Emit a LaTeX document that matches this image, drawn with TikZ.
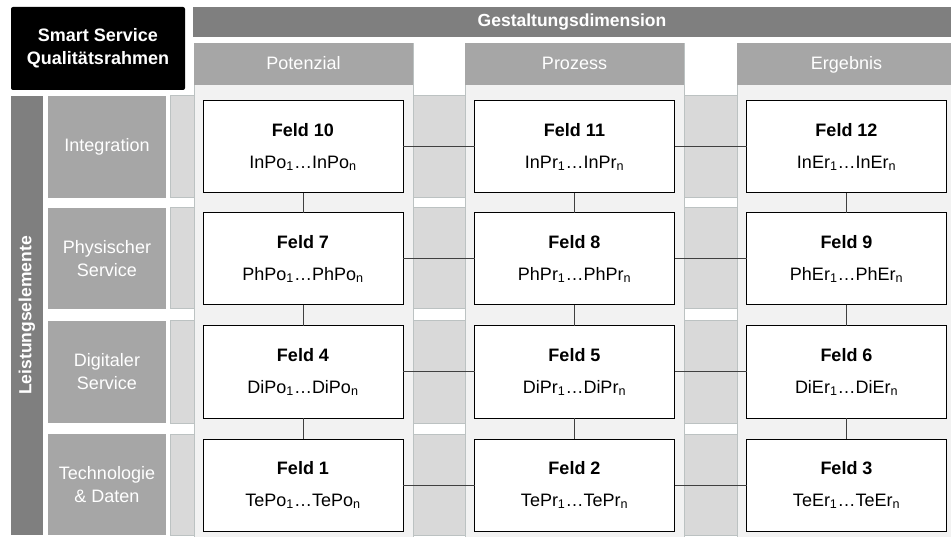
\documentclass[tikz,border=0pt]{standalone}
\usepackage{fontspec}
\setmainfont{Liberation Sans}
\definecolor{barGray}{HTML}{7F7F7F}
\definecolor{headGray}{HTML}{A6A6A6}
\definecolor{bandGray}{HTML}{D9D9D9}
\definecolor{colGray}{HTML}{F2F2F2}
\definecolor{edgeGray}{HTML}{BCC2C2}

\begin{document}
\begin{tikzpicture}[x=1pt, y=-1pt,
            every node/.style={font=\fontsize{18}{23}\selectfont, inner sep=0pt, outer sep=0pt},
            band/.style={rectangle, anchor=north west, fill=bandGray, draw=edgeGray, line width=1pt, minimum width=781pt},
            colbody/.style={rectangle, anchor=north west, fill=colGray, draw=edgeGray, line width=0.8pt, minimum width=219pt, minimum height=500pt},
            head/.style={rectangle, anchor=north west, fill=headGray, minimum width=219pt, minimum height=42pt, text=white,
                         text height=13pt, text depth=2pt},
            rowlabel/.style={rectangle, anchor=north west, fill=headGray, minimum width=118pt, text=white, align=center},
            feld/.style={rectangle, draw, fill=white, line width=1pt, minimum width=200pt, minimum height=92pt, align=center},
            link/.style={draw=black!75, line width=1pt}]

        \useasboundingbox (0,0) rectangle (951,537);

        % rows behind the columns
        \node[band, minimum height=102pt] (bandIn) at (170,96) {};
        \node[band, minimum height=101pt] (bandPh) at (170,208) {};
        \node[band, minimum height=102pt] (bandDi) at (170,321) {};
        \node[band, minimum height=101pt] (bandTe) at (170,434) {};

        % columns
        \node[colbody] (colPo) at (194,43) {};
        \node[colbody] (colPr) at (465,43) {};
        \node[colbody] (colEr) at (737,43) {};
        \node[head] (hdPo) at (194,43) {Potenzial};
        \node[head] (hdPr) at (465,43) {Prozess};
        \node[head] (hdEr) at (737,43) {Ergebnis};

        % row labels
        \node[rowlabel, minimum height=102pt] (lbIn) at (48,96) {Integration};
        \node[rowlabel, minimum height=101pt] (lbPh) at (48,208) {Physischer\\Service};
        \node[rowlabel, minimum height=102pt] (lbDi) at (48,321) {Digitaler\\Service};
        \node[rowlabel, minimum height=101pt] (lbTe) at (48,434) {Technologie\\\& Daten};

        % fields
        \node[feld] (f10) at (303,147) {\textbf{Feld 10}\\[9pt]InPo\textsubscript{1}…InPo\textsubscript{n}};
        \node[feld] (f11) at (574.5,147) {\textbf{Feld 11}\\[9pt]InPr\textsubscript{1}…InPr\textsubscript{n}};
        \node[feld] (f12) at (846.5,147) {\textbf{Feld 12}\\[9pt]InEr\textsubscript{1}…InEr\textsubscript{n}};
        \node[feld] (f7) at (303,259) {\textbf{Feld 7}\\[9pt]PhPo\textsubscript{1}…PhPo\textsubscript{n}};
        \node[feld] (f8) at (574.5,259) {\textbf{Feld 8}\\[9pt]PhPr\textsubscript{1}…PhPr\textsubscript{n}};
        \node[feld] (f9) at (846.5,259) {\textbf{Feld 9}\\[9pt]PhEr\textsubscript{1}…PhEr\textsubscript{n}};
        \node[feld] (f4) at (303,372) {\textbf{Feld 4}\\[9pt]DiPo\textsubscript{1}…DiPo\textsubscript{n}};
        \node[feld] (f5) at (574.5,372) {\textbf{Feld 5}\\[9pt]DiPr\textsubscript{1}…DiPr\textsubscript{n}};
        \node[feld] (f6) at (846.5,372) {\textbf{Feld 6}\\[9pt]DiEr\textsubscript{1}…DiEr\textsubscript{n}};
        \node[feld] (f1) at (303,485) {\textbf{Feld 1}\\[9pt]TePo\textsubscript{1}…TePo\textsubscript{n}};
        \node[feld] (f2) at (574.5,485) {\textbf{Feld 2}\\[9pt]TePr\textsubscript{1}…TePr\textsubscript{n}};
        \node[feld] (f3) at (846.5,485) {\textbf{Feld 3}\\[9pt]TeEr\textsubscript{1}…TeEr\textsubscript{n}};

        % links between fields
        \draw[link] (f10) -- (f11);
        \draw[link] (f11) -- (f12);
        \draw[link] (f7) -- (f8);
        \draw[link] (f8) -- (f9);
        \draw[link] (f4) -- (f5);
        \draw[link] (f5) -- (f6);
        \draw[link] (f1) -- (f2);
        \draw[link] (f2) -- (f3);
        \draw[link] (f10) -- (f7);
        \draw[link] (f7) -- (f4);
        \draw[link] (f4) -- (f1);
        \draw[link] (f11) -- (f8);
        \draw[link] (f8) -- (f5);
        \draw[link] (f5) -- (f2);
        \draw[link] (f12) -- (f9);
        \draw[link] (f9) -- (f6);
        \draw[link] (f6) -- (f3);

        % title blocks
        \node[rectangle, anchor=north west, fill=black, rounded corners=2pt, minimum width=174pt, minimum height=83pt,
              text=white, align=center, font=\fontsize{18}{23}\selectfont\bfseries] (title) at (11,7) {Smart Service\\Qualitätsrahmen};
        \node[rectangle, anchor=north west, fill=barGray, minimum width=758pt, minimum height=30pt,
              text=white, font=\fontsize{17.5}{21}\selectfont\bfseries] (dimension) at (193,7) {Gestaltungsdimension};
        \node[rectangle, fill=barGray, rotate=90, minimum width=439pt, minimum height=32pt,
              text=white, font=\fontsize{17.5}{21}\selectfont\bfseries] (elements) at (27,315.5) {Leistungselemente};
    \end{tikzpicture}
\end{document}
